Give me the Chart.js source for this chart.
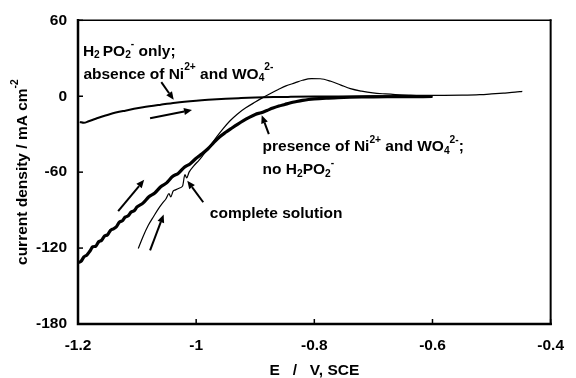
<!DOCTYPE html>
<html><head><meta charset="utf-8">
<script src="https://cdn.jsdelivr.net/npm/chart.js@4/dist/chart.umd.min.js"></script>
<style>html,body{margin:0;padding:0;background:#fff}canvas{display:block}</style>
</head><body>
<canvas id="c" width="576" height="378"></canvas>
<script>
// ---- data ----
const xTicks = [-1.2, -1, -0.8, -0.6, -0.4];
const yTicks = [60, 0, -60, -120, -180];

// H2PO2- only; absence of Ni2+ and WO4 2-
const eOnlyHypo = [-1.197,-1.19,-1.182,-1.17,-1.145,-1.12,-1.09,-1.06,-1.035,-1.0,-0.98,-0.95,-0.924,-0.9,-0.869,-0.84,-0.8,-0.75,-0.7,-0.65,-0.6];
const jOnlyHypo = [-20.3,-21.0,-19.8,-17.8,-14.0,-11.4,-8.8,-6.7,-5.1,-3.5,-2.8,-2.0,-1.5,-1.1,-0.7,-0.5,-0.3,-0.2,-0.1,0,0];

// presence of Ni2+ and WO4 2-; no H2PO2-
const eNoHypo = [-1.2,-1.195,-1.19,-1.185,-1.18,-1.175,-1.17,-1.165,-1.16,-1.155,-1.15,-1.145,-1.14,-1.135,-1.13,-1.125,-1.12,-1.115,-1.11,-1.105,-1.1,-1.09,-1.08,-1.07,-1.06,-1.05,-1.04,-1.03,-1.02,-1.01,-1.0,-0.99,-0.98,-0.97,-0.96,-0.95,-0.94,-0.93,-0.92,-0.91,-0.9,-0.89,-0.88,-0.87,-0.86,-0.85,-0.84,-0.83,-0.82,-0.81,-0.8,-0.78,-0.76,-0.74,-0.72,-0.7,-0.67,-0.64,-0.6];
const jNoHypo = [-131.5,-130.5,-127,-125.5,-122.5,-119,-118.5,-115,-113.8,-110.5,-109.5,-106,-104.8,-103.2,-99.5,-98.5,-95.5,-94.5,-91.5,-90.5,-87.5,-84.5,-79.5,-76.5,-71.5,-68.5,-63.5,-60.8,-56.2,-53.3,-49,-45.5,-41.5,-36.5,-32,-28.5,-25.3,-22.2,-19.3,-16.7,-14.4,-13,-11.2,-9.4,-7.8,-6.5,-5.2,-4.2,-3.3,-2.6,-2.1,-1.5,-1.1,-0.8,-0.6,-0.5,-0.4,-0.3,-0.2];

// complete solution
const eComplete = [-1.098,-1.09,-1.081,-1.072,-1.064,-1.057,-1.051,-1.046,-1.043,-1.039,-1.035,-1.028,-1.023,-1.019,-1.016,-1.012,-1.004,-0.995,-0.987,-0.975,-0.965,-0.955,-0.943,-0.93,-0.916,-0.9,-0.888,-0.875,-0.861,-0.848,-0.833,-0.82,-0.805,-0.79,-0.772,-0.755,-0.739,-0.72,-0.701,-0.68,-0.663,-0.64,-0.62,-0.6,-0.58,-0.55,-0.52,-0.5,-0.48,-0.46,-0.448];
const jComplete = [-120.4,-111,-102,-95,-89,-84.5,-81,-77,-79.5,-75,-74,-72.5,-71,-62,-64.5,-60,-55,-50.5,-45.8,-38.5,-32,-26,-19.6,-14,-9.2,-4.6,-1.3,2,5.3,8.2,10.5,12.6,13.9,13.8,11.8,8.8,6,4,2.6,1.8,1.3,0.9,0.7,0.7,0.7,0.8,1.2,1.8,2.5,3.2,3.9];

// annotation arrows: [E tail, j tail] -> [E tip, j tip]
const arrowTails = [[-1.059, 11.2], [-1.078, -17.4], [-0.877, -30], [-0.988, -83.8], [-1.132, -90.8], [-1.078, -121.8]];
const arrowTips  = [[-1.038, -2.8], [-1.007, -10.8], [-0.889, -15], [-1.015, -66.7], [-1.088, -66.1], [-1.055, -93.4]];

// annotation texts (left edge E, centre j) with sub/superscripts
const labelAnchors = [[-1.1917, 36.4], [-1.1909, 18.3], [-0.8876, -39.1], [-0.8876, -57.2], [-0.9769, -91.9]];
const labelTexts = [
  [{t:'H'},{sub:'2'},{gap:3},{t:'PO'},{sub:'2'},{sup:'-'},{t:' only;'}],
  [{t:'absence of Ni'},{sup:'2+'},{t:' and WO'},{sub:'4'},{sup:'2-'}],
  [{t:'presence of Ni'},{sup:'2+'},{t:' and WO'},{sub:'4'},{sup:'2-'},{t:';'}],
  [{t:'no H'},{sub:'2'},{t:'PO'},{sub:'2'},{sup:'-'}],
  [{t:'complete solution'}]
];
const yTitle = [{t:'current density / mA cm'},{sup:'-2'}];
const xTitle = 'E   /   V, SCE';

// ---- drawing helpers ----
const FF = '"Liberation Sans", Arial, Helvetica, sans-serif';
const FS = 15.5;
function segWidth(ctx, s, size) {
  if (s.gap) return s.gap;
  if (s.t !== undefined) { ctx.font = `bold ${size}px ${FF}`; return ctx.measureText(s.t).width; }
  ctx.font = `bold ${size*0.66}px ${FF}`;
  return ctx.measureText(s.sub || s.sup).width;
}
function richWidth(ctx, segs, size) { return segs.reduce((w, s) => w + segWidth(ctx, s, size), 0); }
function drawRich(ctx, segs, x, cy, size) {
  const base = cy + 0.36*size;
  let cx = x;
  ctx.textAlign = 'left'; ctx.textBaseline = 'alphabetic'; ctx.fillStyle = '#000';
  for (const s of segs) {
    const w = segWidth(ctx, s, size);
    if (s.t !== undefined) ctx.fillText(s.t, cx, base);
    else if (s.sub) ctx.fillText(s.sub, cx, base + 0.16*size);
    else if (s.sup) ctx.fillText(s.sup, cx, base - 0.56*size);
    cx += w;
  }
}
function arrow(ctx, x1, y1, x2, y2) {
  const ang = Math.atan2(y2 - y1, x2 - x1);
  const L = 8, H = 3.5;
  const bx = x2 - L*Math.cos(ang), by = y2 - L*Math.sin(ang);
  ctx.strokeStyle = '#000'; ctx.lineWidth = 2; ctx.lineCap = 'butt';
  ctx.beginPath(); ctx.moveTo(x1, y1); ctx.lineTo(bx, by); ctx.stroke();
  ctx.fillStyle = '#000';
  ctx.beginPath();
  ctx.moveTo(x2, y2);
  ctx.lineTo(bx + H*Math.sin(ang), by - H*Math.cos(ang));
  ctx.lineTo(bx - H*Math.sin(ang), by + H*Math.cos(ang));
  ctx.closePath(); ctx.fill();
}

const decor = {
  id: 'decor',
  afterDraw(chart) {
    const {ctx, chartArea: a, scales: {x, y}} = chart;
    ctx.save();
    // frame
    ctx.strokeStyle = '#000'; ctx.lineCap = 'square';
    ctx.lineWidth = 1.5; ctx.beginPath(); ctx.moveTo(a.left, a.top); ctx.lineTo(a.right, a.top); ctx.stroke();
    ctx.lineWidth = 2; ctx.beginPath(); ctx.moveTo(a.right, a.top); ctx.lineTo(a.right, a.bottom); ctx.stroke();
    ctx.lineWidth = 2.5; ctx.beginPath(); ctx.moveTo(a.left, a.top); ctx.lineTo(a.left, a.bottom); ctx.lineTo(a.right, a.bottom); ctx.stroke();
    // inner ticks
    ctx.lineWidth = 1.5; ctx.lineCap = 'butt';
    for (const v of xTicks) { const px = x.getPixelForValue(v); ctx.beginPath(); ctx.moveTo(px, a.bottom); ctx.lineTo(px, a.bottom - 5); ctx.stroke(); }
    for (const v of yTicks) { const py = y.getPixelForValue(v); ctx.beginPath(); ctx.moveTo(a.left, py); ctx.lineTo(a.left + 5, py); ctx.stroke(); }
    // arrows
    for (let i = 0; i < arrowTails.length; i++) {
      arrow(ctx, x.getPixelForValue(arrowTails[i][0]), y.getPixelForValue(arrowTails[i][1]),
                 x.getPixelForValue(arrowTips[i][0]), y.getPixelForValue(arrowTips[i][1]));
    }
    // labels
    for (let i = 0; i < labelTexts.length; i++) {
      drawRich(ctx, labelTexts[i], x.getPixelForValue(labelAnchors[i][0]), y.getPixelForValue(labelAnchors[i][1]), FS);
    }
    // y title
    const w = richWidth(ctx, yTitle, FS);
    ctx.translate(21, (a.top + a.bottom) / 2);
    ctx.rotate(-Math.PI/2);
    drawRich(ctx, yTitle, -w/2, 0, FS);
    ctx.restore();
  }
};

function pts(es, js) { return es.map((e, i) => ({x: e, y: js[i]})); }

new Chart(document.getElementById('c'), {
  type: 'line',
  data: {
    datasets: [
      {label: 'H2PO2- only', data: pts(eOnlyHypo, jOnlyHypo), borderColor: '#000', borderWidth: 2, pointRadius: 0, cubicInterpolationMode: 'monotone'},
      {label: 'Ni2+ and WO4 2-, no H2PO2-', data: pts(eNoHypo, jNoHypo), borderColor: '#000', borderWidth: 3.2, pointRadius: 0, cubicInterpolationMode: 'monotone'},
      {label: 'complete solution', data: pts(eComplete, jComplete), borderColor: '#000', borderWidth: 1.2, pointRadius: 0, cubicInterpolationMode: 'monotone'}
    ]
  },
  options: {
    responsive: false, animation: false, devicePixelRatio: 1,
    layout: {padding: {top: 19, right: 14, left: 0, bottom: 0}},
    plugins: {legend: {display: false}, tooltip: {enabled: false}},
    scales: {
      x: {
        type: 'linear', min: -1.2, max: -0.4,
        afterBuildTicks: s => { s.ticks = xTicks.map(v => ({value: v})); },
        afterFit: s => { s.height = 54; },
        grid: {display: false, drawTicks: false}, border: {display: false},
        ticks: {color: '#000', font: {family: FF, size: FS, weight: 'bold'}, padding: 12, maxRotation: 0, callback: v => String(v)},
        title: {display: true, text: xTitle, color: '#000', font: {family: FF, size: FS, weight: 'bold', lineHeight: 1.0}, padding: {top: 0, bottom: 0}}
      },
      y: {
        type: 'linear', min: -180, max: 60,
        afterBuildTicks: s => { s.ticks = yTicks.map(v => ({value: v})); },
        afterFit: s => { s.width = 78; },
        grid: {display: false, drawTicks: false}, border: {display: false},
        ticks: {color: '#000', font: {family: FF, size: FS, weight: 'bold'}, padding: 11, callback: v => String(v)}
      }
    }
  },
  plugins: [decor]
});
</script>
</body></html>
